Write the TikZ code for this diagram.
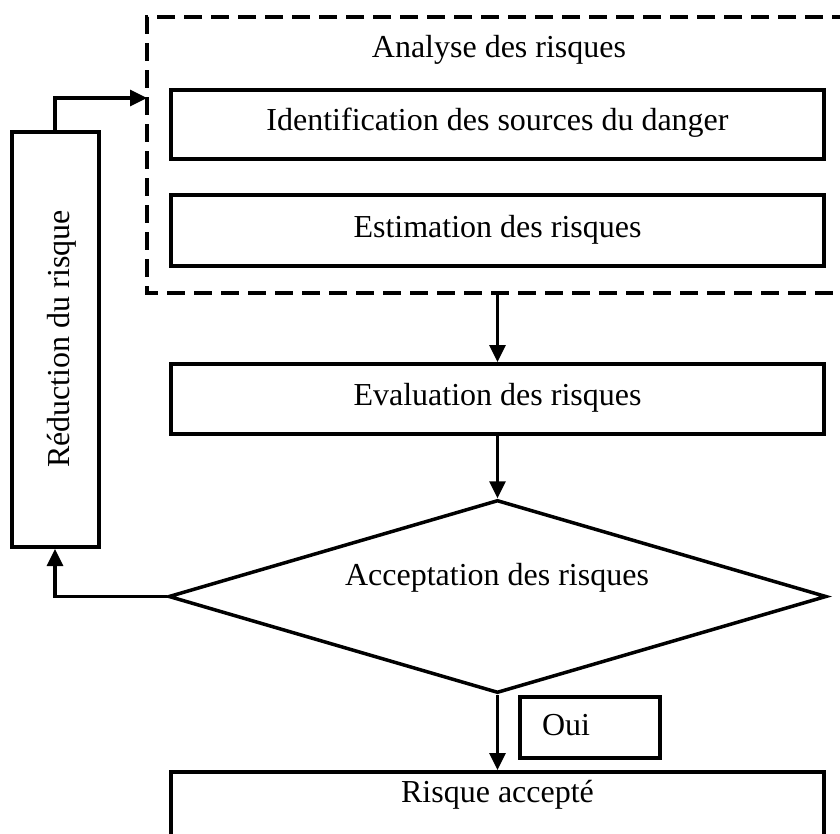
\documentclass[tikz,border=0pt]{standalone}
\usepackage{fontspec}
\setmainfont{Liberation Serif}
\usetikzlibrary{arrows.meta,shapes.geometric}
\tikzset{
  txt/.style={font=\fontsize{32pt}{38pt}\selectfont, inner sep=0pt},
  box/.style={txt, draw, line width=4pt, minimum width=653pt},
  conn/.style={line width=3.3pt, -{Triangle[length=17pt,width=16pt]}},
  dashbox/.style={line width=4pt, dash pattern=on 18pt off 9pt},
}
\begin{document}
\begin{tikzpicture}[x=1pt,y=-1pt]
\useasboundingbox (0,0) rectangle (840,833);
\clip (0,0) rectangle (840,833);
% dashed frame (open to the right)
\coordinate (anaW) at (147,98);
\coordinate (anaS) at (497.5,293);
\draw[dashbox] (850,17) -- (147,17) -- (147,293) -- (850,293);
\node[txt, anchor=base] (anatxt) at (499,57) {Analyse des risques};
% boxes
\node[box, anchor=north, text height=40pt, text depth=29pt] (ident) at (497.5,88) {Identification des sources du danger};
\node[box, anchor=north, text height=42pt, text depth=29pt] (estim) at (497.5,193) {Estimation des risques};
\node[box, anchor=north, text height=41pt, text depth=29pt] (eval) at (497.5,362) {Evaluation des risques};
% decision
\node[diamond, draw, line width=3.5pt, minimum width=658pt, minimum height=193pt, inner sep=0pt] (acpt) at (497.5,596.5) {};
\node[txt, anchor=base] (acpttxt) at (497,585) {Acceptation des risques};
% reduction box
\node[draw, line width=4pt, minimum width=87pt, minimum height=415pt, inner sep=0pt] (red) at (55,339.5) {};
\node[txt, rotate=90, anchor=base] (redtxt) at (69,339) {Réduction du risque};
% Oui
\node[txt, draw, line width=4pt, anchor=north west, text width=140pt, align=left, text height=38pt, text depth=23pt] (oui) at (518,695) {\hspace*{22pt}Oui};
% accepted
\node[box, anchor=north, text height=30pt, text depth=80pt] (acc) at (497.5,770) {Risque accepté};
% connectors
\draw[conn] (anaS) -- (eval.north);
\draw[conn] (eval.south) -- (acpt.north);
\draw[conn] (acpt.west) -| (red.south);
\draw[conn] (red.north) |- (anaW);
\draw[conn] (acpt.south) -- (acc.north);
\end{tikzpicture}
\end{document}
